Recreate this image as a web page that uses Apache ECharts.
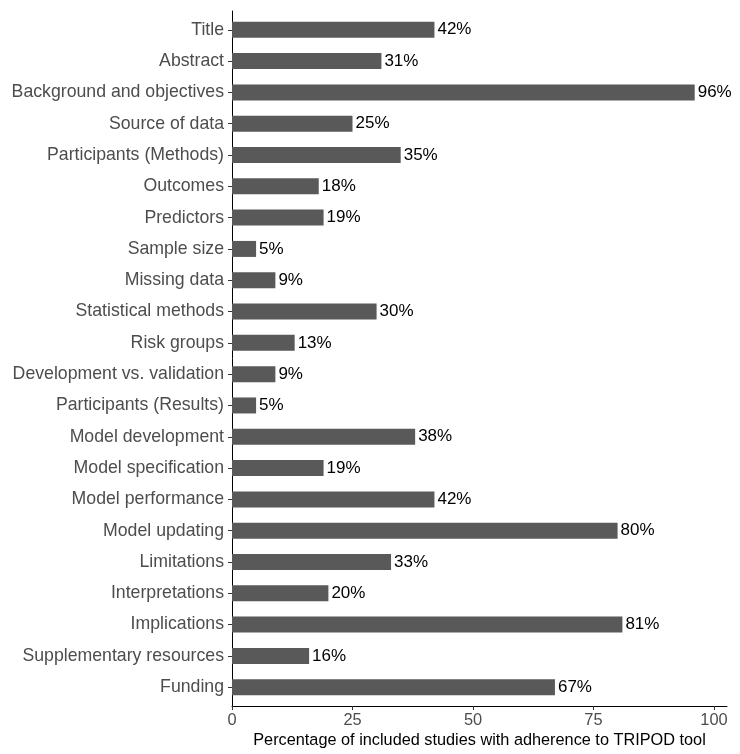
<!DOCTYPE html>
<html><head><meta charset="utf-8">
<script src="https://cdn.jsdelivr.net/npm/echarts@6/dist/echarts.min.js"></script>
<style>html,body{margin:0;padding:0;background:#fff}#c{width:740px;height:754px}</style>
</head><body><div id="c"></div>
<script>
const categories = ["Title","Abstract","Background and objectives","Source of data","Participants (Methods)","Outcomes","Predictors","Sample size","Missing data","Statistical methods","Risk groups","Development vs. validation","Participants (Results)","Model development","Model specification","Model performance","Model updating","Limitations","Interpretations","Implications","Supplementary resources","Funding"];
const values = [42,31,96,25,35,18,19,5,9,30,13,9,5,38,19,42,80,33,20,81,16,67];
const xTicks = [0,25,50,75,100];
const xTitle = "Percentage of included studies with adherence to TRIPOD tool";

const font = "Liberation Sans, Arial, sans-serif";
const chart = echarts.init(document.getElementById('c'), null, {renderer:'canvas'});
const L = 232, R = 13, T = 11, B = 48;
const n = categories.length;
// category band size so that the ggplot-like 0.6 expansion is kept
const band = (754 - T - B) / (n + 0.2);
const pad = band * 0.1;
const xMax = 102.7;
chart.setOption({
  animation:false,
  grid:[
    {left:L, right:R, top:T + pad, bottom:B + pad, containLabel:false, outerBoundsMode:'none'},
    {left:L, right:R, top:T, bottom:B, containLabel:false, outerBoundsMode:'none'}
  ],
  xAxis:[
    {gridIndex:0, type:'value', min:0, max:xMax, show:false},
    {gridIndex:1, type:'value', min:0, max:xMax,
      axisLine:{show:true, onZero:false, lineStyle:{color:'#000', width:1}},
      axisTick:{show:true, customValues:xTicks, length:4, lineStyle:{color:'#333'}},
      axisLabel:{customValues:xTicks, color:'#4d4d4d', fontSize:16.4, fontFamily:font, margin:6},
      splitLine:{show:false},
      name:xTitle, nameLocation:'middle', nameGap:27,
      nameTextStyle:{color:'#000', fontSize:16.3, fontFamily:font}
    }
  ],
  yAxis:[
    {gridIndex:0, type:'category', data:categories, inverse:true,
      axisLine:{show:false},
      axisTick:{show:true, alignWithLabel:true, length:4, lineStyle:{color:'#333'}},
      axisLabel:{interval:0, color:'#4d4d4d', fontSize:17.7, fontFamily:font, margin:8},
      splitLine:{show:false}
    },
    {gridIndex:1, type:'value', min:0, max:1,
      axisLine:{show:true, onZero:false, lineStyle:{color:'#000', width:1}},
      axisTick:{show:false}, axisLabel:{show:false}, splitLine:{show:false}
    }
  ],
  series:[{type:'bar', xAxisIndex:0, yAxisIndex:0,
    data: values,
    barWidth:16,
    itemStyle:{color:'#595959'},
    label:{show:true, position:'right', distance:3, formatter:p=>p.value+'%', color:'#000', fontSize:17, fontFamily:font}
  }]
});
</script></body></html>
